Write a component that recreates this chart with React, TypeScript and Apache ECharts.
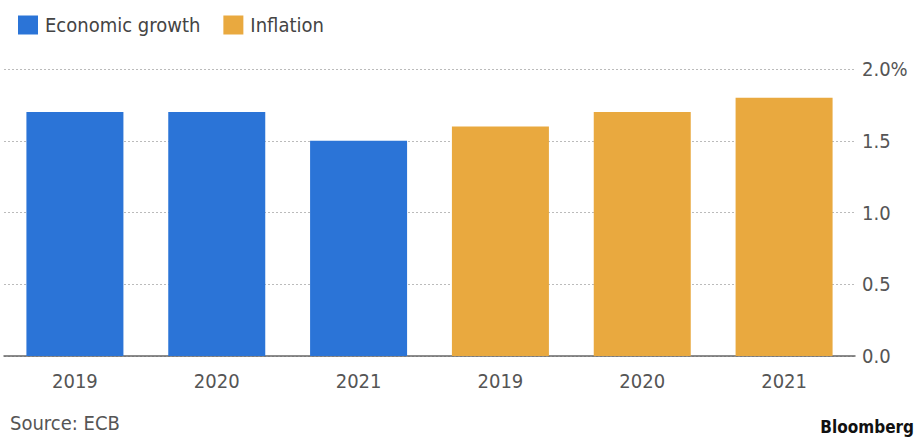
import React, { useEffect, useRef } from "react";
import * as echarts from "echarts";

const categories = ["2019", "2020", "2021", "2019", "2020", "2021"];
const growthValues = [1.7, 1.7, 1.5, null, null, null];
const inflationValues = [null, null, null, 1.6, 1.7, 1.8];
const seriesNames = ["Economic growth", "Inflation"];
const sourceText = "Source: ECB";
const brandText = "Bloomberg";

const FONT = "'DejaVu Sans Condensed', 'DejaVu Sans', sans-serif";
const BLUE = "#2b74d7";
const ORANGE = "#e9a93f";

export default function App() {
  const ref = useRef<HTMLDivElement>(null);
  useEffect(() => {
    if (!ref.current) return;
    const chart = echarts.init(ref.current, undefined, { renderer: "svg" });
    chart.setOption({
      animation: false,
      backgroundColor: "#ffffff",
      legend: {
        left: 13,
        top: 10,
        itemWidth: 20,
        itemHeight: 19,
        itemGap: 23,
        icon: "rect",
        data: seriesNames,
        textStyle: {
          fontFamily: FONT,
          fontSize: 20,
          color: "#444",
          padding: [0, 0, 0, 2],
        },
      },
      grid: { left: 4, right: 63, top: 69, bottom: 83 },
      xAxis: {
        type: "category",
        data: categories,
        axisLine: { lineStyle: { color: "#666", width: 1.5 } },
        axisTick: { alignWithLabel: true, length: 6, lineStyle: { color: "#666" } },
        axisLabel: { fontFamily: FONT, fontSize: 20, color: "#555", margin: 15 },
      },
      yAxis: {
        type: "value",
        position: "right",
        min: 0,
        max: 2,
        interval: 0.5,
        axisLine: { show: false },
        axisTick: { show: false },
        splitLine: { lineStyle: { color: "#bbb", type: [2, 2], width: 1.2 } },
        axisLabel: {
          fontFamily: FONT,
          fontSize: 20,
          color: "#555",
          margin: 7,
          formatter: (v: number) => (v === 2 ? "2.0%" : v.toFixed(1)),
        },
      },
      series: [
        {
          name: seriesNames[0],
          type: "bar",
          data: growthValues,
          barWidth: 97,
          barGap: "-100%",
          itemStyle: { color: BLUE },
        },
        {
          name: seriesNames[1],
          type: "bar",
          data: inflationValues,
          barWidth: 97,
          barGap: "-100%",
          itemStyle: { color: ORANGE },
        },
      ],
      graphic: [
        {
          type: "text",
          left: 10,
          top: 413,
          style: { text: sourceText, fontFamily: FONT, fontSize: 20, fill: "#555" },
        },
        {
          type: "text",
          right: 4,
          top: 418,
          style: { text: brandText, fontFamily: "'DejaVu Sans Condensed', 'DejaVu Sans', sans-serif", fontSize: 17, fontWeight: "bold", fill: "#111" },
        },
      ],
    });
    return () => chart.dispose();
  }, []);
  return (
    <div
      ref={ref}
      style={{ position: "fixed", left: 0, top: 0, width: 918, height: 439 }}
    />
  );
}
